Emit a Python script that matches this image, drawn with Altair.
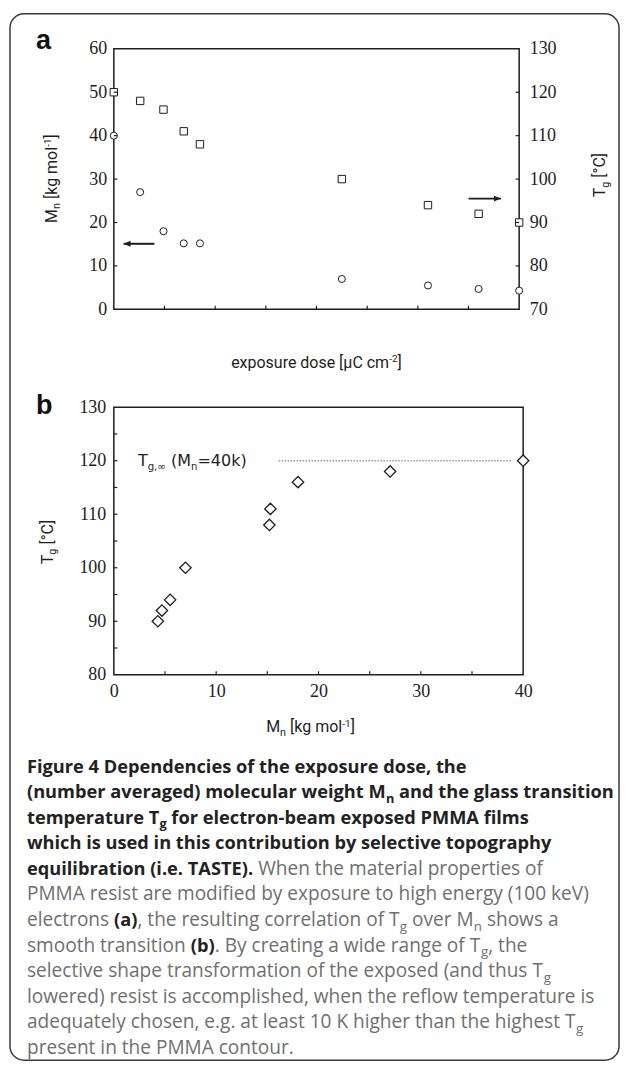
import os
import glob
import struct
import pandas as pd
import altair as alt

# ---------------- data ----------------
dose = [0, 26, 49, 69, 85, 225, 310, 360, 400]              # exposure dose [uC cm^-2]
tg_vs_dose = [120, 118, 116, 111, 108, 100, 94, 92, 90]     # squares (right axis, Tg)
mn_vs_dose = [40, 27, 18, 15.2, 15.2, 7, 5.5, 4.7, 4.3]     # circles (left axis, Mn)

mn_b = [4.3, 4.7, 5.5, 7.0, 15.2, 15.3, 18, 27, 40]         # panel b: Mn
tg_b = [90, 92, 94, 100, 108, 111, 116, 118, 120]           # panel b: Tg

arrow_left_dose = [40, 9.6]
arrow_left_mn = 15.1
arrow_right_dose = [350, 382]
arrow_right_mn = 25.5

tg_inf = 120
tg_inf_line = [16.1, 38.9]
tg_inf_label_mn = 2.35

a_x_labels = [0, 100, 200, 300, 400]
a_x_ticks = [50, 100, 150, 200, 250, 300, 350]
a_l_labels = [0, 10, 20, 30, 40, 50, 60]
a_l_ticks = [10, 20, 30, 40, 50]
a_r_labels = [70, 80, 90, 100, 110, 120, 130]
a_r_ticks = [80, 90, 100, 110, 120]
b_x_labels = [0, 10, 20, 30, 40]
b_x_ticks = [5, 10, 15, 20, 25, 30, 35]
b_y_labels = [80, 90, 100, 110, 120, 130]
b_y_ticks = [85, 90, 95, 100, 105, 110, 115, 120, 125]

title_mn = [("M", "n"), ("n", "sub"), (" [kg mol", "n"), ("-1", "sup"), ("]", "n")]
title_tg = [("T", "n"), ("g", "sub"), (" [\u00b0C]", "n")]
title_dose = [("exposure dose [\u03bcC cm", "n"), ("-2", "sup"), ("]", "n")]
annot_tg_inf = [("T", "n"), ("g,\u221e", "sub"), (" (M", "n"), ("n", "sub"), ("=40k)", "n")]

caption_lines = [
    [("Figure 4 Dependencies of the exposure dose, the", "B")],
    [("(number averaged) molecular weight M", "B"), ("n", "b"), (" and the glass transition", "B")],
    [("temperature T", "B"), ("g", "b"), (" for electron-beam exposed PMMA films", "B")],
    [("which is used in this contribution by selective topography", "B")],
    [("equilibration (i.e. TASTE).", "B"), (" When the material properties of", "R")],
    [("PMMA resist are modified by exposure to high energy (100 keV)", "R")],
    [("electrons ", "R"), ("(a)", "B"), (", the resulting correlation of T", "R"), ("g", "r"),
     (" over M", "R"), ("n", "r"), (" shows a", "R")],
    [("smooth transition ", "R"), ("(b)", "B"), (". By creating a wide range of T", "R"), ("g", "r"),
     (", the", "R")],
    [("selective shape transformation of the exposed (and thus T", "R"), ("g", "r")],
    [("lowered) resist is accomplished, when the reflow temperature is", "R")],
    [("adequately chosen, e.g. at least 10 K higher than the highest T", "R"), ("g", "r")],
    [("present in the PMMA contour.", "R")],
]
# widths (px) that the bold-only caption lines take in the figure
bold_line_widths = {0: 470, 1: 588, 2: 531, 3: 558}

# ---------------- font metrics (for placing sub/superscripts) ----------------
FONT_DIRS = ["/usr/share/fonts", "/usr/local/share/fonts", "/usr/lib/fonts",
             os.path.expanduser("~/.fonts"), os.path.expanduser("~/.local/share/fonts")]


def _all_fonts():
    out = []
    for d in FONT_DIRS:
        try:
            out += [p for p in glob.glob(os.path.join(d, "**", "*"), recursive=True)
                    if p.lower().endswith((".ttf", ".otf", ".ttc"))]
        except Exception:
            pass
    return sorted(out)


ALL_FONTS = _all_fonts()


def _norm(p):
    return os.path.basename(p).lower().replace(" ", "").replace("_", "").replace("-", "")


def pick(prefix, bold, exclude):
    best, bs = None, -1
    for p in ALL_FONTS:
        n = _norm(p)
        if not n.startswith(prefix) or "italic" in n or any(e in n for e in exclude):
            continue
        var = ("[" in n) or ("variable" in n)
        if bold:
            if "bold" in n and not any(w in n for w in ("semibold", "extrabold", "ultrabold", "demibold")):
                sc = 3
            elif var:
                sc = 2
            else:
                continue
        else:
            if "regular" in n:
                sc = 3
            elif var:
                sc = 2
            elif not any(w in n for w in ("bold", "light", "thin", "medium", "black", "heavy", "semi", "extra")):
                sc = 2.5
            else:
                continue
        if sc > bs:
            best, bs = p, sc
    return best


def _parse(path):
    with open(path, "rb") as f:
        data = f.read()
    base = 0
    if data[:4] == b"ttcf":
        base = struct.unpack(">I", data[12:16])[0]
    num = struct.unpack(">H", data[base + 4:base + 6])[0]
    tables = {}
    for i in range(num):
        rec = base + 12 + 16 * i
        tag = data[rec:rec + 4].decode("latin-1")
        off = struct.unpack(">I", data[rec + 8:rec + 12])[0]
        tables[tag] = off
    upem = struct.unpack(">H", data[tables["head"] + 18:tables["head"] + 20])[0]
    nhm = struct.unpack(">H", data[tables["hhea"] + 34:tables["hhea"] + 36])[0]
    h = tables["hmtx"]
    adv = [struct.unpack(">H", data[h + 4 * i:h + 4 * i + 2])[0] for i in range(nhm)]
    c = tables["cmap"]
    n = struct.unpack(">H", data[c + 2:c + 4])[0]
    s = None
    for i in range(n):
        pid, eid, off = struct.unpack(">HHI", data[c + 4 + 8 * i:c + 12 + 8 * i])
        fmt = struct.unpack(">H", data[c + off:c + off + 2])[0]
        if fmt == 4 and (pid == 3 or pid == 0):
            s = c + off
    segx2 = struct.unpack(">H", data[s + 6:s + 8])[0]
    ns = segx2 // 2
    ends = struct.unpack(">%dH" % ns, data[s + 14:s + 14 + segx2])
    starts = struct.unpack(">%dH" % ns, data[s + 16 + segx2:s + 16 + 2 * segx2])
    deltas = struct.unpack(">%dh" % ns, data[s + 16 + 2 * segx2:s + 16 + 3 * segx2])
    ro = s + 16 + 3 * segx2
    roffs = struct.unpack(">%dH" % ns, data[ro:ro + segx2])

    def gid(cp):
        for i in range(ns):
            if ends[i] >= cp:
                if starts[i] > cp:
                    return 0
                if roffs[i] == 0:
                    return (cp + deltas[i]) & 0xFFFF
                a = ro + 2 * i + roffs[i] + 2 * (cp - starts[i])
                g = struct.unpack(">H", data[a:a + 2])[0]
                return (g + deltas[i]) & 0xFFFF if g else 0
        return 0

    def advance(ch):
        cp = ord(ch)
        g = gid(cp) if cp < 0x10000 else 0
        return adv[g] if g < nhm else adv[-1]

    return upem, advance, ("fvar" in tables)


class Meter:
    def __init__(self, path, bold=False, fallback=0.55):
        self.bold = bold
        self.fb = fallback
        self.m = None
        if path:
            try:
                self.m = _parse(path)
            except Exception:
                self.m = None

    def __call__(self, text, size):
        if self.m is None:
            return len(text) * size * self.fb
        upem, advance, var = self.m
        w = sum(advance(ch) for ch in text) * size / upem
        if self.bold and var:
            w *= 1.06
        return w


cap_reg = Meter(pick("opensans", False, ("cond",)))
cap_bold = Meter(pick("opensans", True, ("cond",)), bold=True, fallback=0.6)
roboto = Meter(pick("roboto", False, ("mono", "slab", "cond", "flex", "serif")), fallback=0.5)
dejavu = Meter(pick("dejavusans", False, ("mono", "cond", "serif")), fallback=0.6)

# ---------------- styles / layout ----------------
INK = "#1e1e1e"
SERIF = "Liberation Serif"
TITLE_FONT = "Roboto"
ANNOT_FONT = "DejaVu Sans"
CAP_FONT = "Open Sans"
CAP_BOLD_C = "#222222"
CAP_REG_C = "#6f6f6f"
W_A, H_A = 406, 261
W_B, H_B = 410, 268
GAP = 98
TICK = 3.5

ONE = pd.DataFrame({"k": [0]})


def ax(values, orient, pad):
    return alt.Axis(values=values, orient=orient, labelPadding=pad, labelFont=SERIF,
                    labelFontSize=18, labelColor=INK, grid=False, domain=False, ticks=False,
                    tickSize=0, labelFlush=False, labelOverlap=False, title=None)


def txt(text, enc, font, size, color=INK, weight="normal", angle=0, dx=0.0, dy=0.0, data=ONE):
    kw = dict(text=text, font=font, fontSize=round(size, 2), color=color, fontWeight=weight,
              align="left", baseline="alphabetic", dx=round(dx, 2), dy=round(dy, 2))
    if angle:
        kw["angle"] = angle
    return alt.Chart(data).mark_text(**kw).encode(**enc)


def rich(segs, meter, font, size, enc, angle=0, center=True, data=ONE, sub_f=0.68, sup_f=0.62,
         sub_dy=0.22, sup_dy=-0.36, base_dy=0.0):
    parts = []
    off = 0.0
    for t, kind in segs:
        s = size if kind == "n" else (size * sub_f if kind == "sub" else size * sup_f)
        lead = len(t) - len(t.lstrip(" "))
        trail = len(t) - len(t.rstrip(" "))
        core = t.strip(" ")
        off += lead * meter(" ", s)
        parts.append((core, s, kind, off))
        off += meter(core, s) + trail * meter(" ", s)
    start = -off / 2 if center else 0.0
    layers = []
    for core, s, kind, o in parts:
        dy = 0 if kind == "n" else (size * sub_dy if kind == "sub" else size * sup_dy)
        layers.append(txt(core, enc, font, s, angle=angle, dx=start + o, dy=dy + base_dy, data=data))
    return layers


def at(x, y):
    return dict(x=alt.value(x), y=alt.value(y))


# ---------------- panel a ----------------
xa = alt.Scale(domain=[0, 400], nice=False)
ymn = alt.Scale(domain=[0, 60], nice=False, zero=False)
ytg = alt.Scale(domain=[70, 130], nice=False, zero=False)

df_a = pd.DataFrame({"dose": dose, "tg": tg_vs_dose, "mn": mn_vs_dose})

border = alt.Chart(ONE).mark_rect(fillOpacity=0, stroke="#3a3a3a", strokeWidth=1.5, cornerRadius=14).encode(
    x=alt.value(-104), x2=alt.value(506), y=alt.value(-35), y2=alt.value(1013))

circ = alt.Chart(df_a).mark_point(shape="circle", size=50, filled=True, fill="white", stroke=INK,
                                  strokeWidth=1, opacity=1).encode(
    x=alt.X("dose:Q", scale=xa, axis=ax(a_x_labels, "bottom", 8.7)),
    y=alt.Y("mn:Q", scale=ymn, axis=ax(a_l_labels, "left", 7)))

sq = alt.Chart(df_a).mark_point(shape="square", size=55, filled=True, fill="white", stroke=INK,
                                strokeWidth=1, opacity=1).encode(
    x=alt.X("dose:Q", scale=xa, axis=None),
    y=alt.Y("tg:Q", scale=ytg, axis=ax(a_r_labels, "right", 10)))

df_arr = pd.DataFrame({"x1": [arrow_left_dose[0], arrow_right_dose[0]],
                       "x2": [arrow_left_dose[1], arrow_right_dose[1]],
                       "y": [arrow_left_mn, arrow_right_mn],
                       "head": ["L", "R"]})
shaft = alt.Chart(df_arr).mark_rule(color=INK, strokeWidth=2).encode(
    x=alt.X("x1:Q", scale=xa, axis=None), x2="x2:Q", y=alt.Y("y:Q", scale=ymn, axis=None))
head_l = alt.Chart(df_arr[df_arr["head"] == "L"]).mark_point(
    shape="M0,0L2,-0.85L2,0.85Z", size=49, filled=True, color=INK, opacity=1).encode(
    x=alt.X("x2:Q", scale=xa, axis=None), y=alt.Y("y:Q", scale=ymn, axis=None))
head_r = alt.Chart(df_arr[df_arr["head"] == "R"]).mark_point(
    shape="M0,0L-2,-0.85L-2,0.85Z", size=49, filled=True, color=INK, opacity=1).encode(
    x=alt.X("x2:Q", scale=xa, axis=None), y=alt.Y("y:Q", scale=ymn, axis=None))

tick_a_b = alt.Chart(pd.DataFrame({"v": a_x_ticks})).mark_rule(color=INK, strokeWidth=1.2).encode(
    x=alt.X("v:Q", scale=xa, axis=None), y=alt.value(H_A), y2=alt.value(H_A - TICK))
tick_a_l = alt.Chart(pd.DataFrame({"v": a_l_ticks})).mark_rule(color=INK, strokeWidth=1.2).encode(
    y=alt.Y("v:Q", scale=ymn, axis=None), x=alt.value(0), x2=alt.value(TICK))
tick_a_r = alt.Chart(pd.DataFrame({"v": a_r_ticks})).mark_rule(color=INK, strokeWidth=1.2).encode(
    y=alt.Y("v:Q", scale=ytg, axis=None), x=alt.value(W_A), x2=alt.value(W_A - TICK))

titles_a = (rich(title_mn, roboto, TITLE_FONT, 16, at(-57, 130), angle=270)
            + rich(title_tg, roboto, TITLE_FONT, 16, at(492, 126.5), angle=270)
            + rich(title_dose, roboto, TITLE_FONT, 16, at(W_A / 2, 319.7)))
label_a = txt("a", at(-78, 0), "Liberation Sans", 27, color="#111111", weight="bold")

panel_a = alt.layer(circ, sq, border, shaft, head_l, head_r, tick_a_b, tick_a_l, tick_a_r,
                    *titles_a, label_a).resolve_scale(y="independent").properties(
    width=W_A, height=H_A, view=alt.ViewBackground(stroke=INK, strokeWidth=1.5))

# ---------------- panel b ----------------
xb = alt.Scale(domain=[0, 40], nice=False)
yb = alt.Scale(domain=[80, 130], nice=False, zero=False)

dia = alt.Chart(pd.DataFrame({"mn": mn_b, "tg": tg_b})).mark_point(
    shape="diamond", size=130, filled=True, fill="white", stroke=INK, strokeWidth=1.3, opacity=1).encode(
    x=alt.X("mn:Q", scale=xb, axis=ax(b_x_labels, "bottom", 7.7)),
    y=alt.Y("tg:Q", scale=yb, axis=ax(b_y_labels, "left", 8)))

ref = alt.Chart(pd.DataFrame({"x1": [tg_inf_line[0]], "x2": [tg_inf_line[1]], "y": [tg_inf]})).mark_rule(
    color="#9a9a9a", strokeWidth=1.5, strokeDash=[1.5, 1.5]).encode(
    x=alt.X("x1:Q", scale=xb, axis=None), x2="x2:Q", y=alt.Y("y:Q", scale=yb, axis=None))

tick_b_b = alt.Chart(pd.DataFrame({"v": b_x_ticks})).mark_rule(color=INK, strokeWidth=1.2).encode(
    x=alt.X("v:Q", scale=xb, axis=None), y=alt.value(H_B), y2=alt.value(H_B - TICK))
tick_b_l = alt.Chart(pd.DataFrame({"v": b_y_ticks})).mark_rule(color=INK, strokeWidth=1.2).encode(
    y=alt.Y("v:Q", scale=yb, axis=None), x=alt.value(0), x2=alt.value(TICK))

ann_df = pd.DataFrame({"x": [tg_inf_label_mn], "y": [tg_inf]})
ann_enc = dict(x=alt.X("x:Q", scale=xb, axis=None), y=alt.Y("y:Q", scale=yb, axis=None))
annot = rich(annot_tg_inf, dejavu, ANNOT_FONT, 16, ann_enc, center=False, data=ann_df,
             sub_f=0.64, sub_dy=0.25, base_dy=5.5)

titles_b = (rich(title_tg, roboto, TITLE_FONT, 16, at(-61.3, 135), angle=270)
            + rich(title_mn, roboto, TITLE_FONT, 16, at(197, 325.7)))
label_b = txt("b", at(-78, 7.3), "Liberation Sans", 27, color="#111111", weight="bold")

panel_b = alt.layer(dia, ref, tick_b_b, tick_b_l, *annot, *titles_b, label_b).resolve_scale(
    x="independent", y="independent").properties(
    width=W_B, height=H_B, view=alt.ViewBackground(stroke=INK, strokeWidth=1.5))

# ---------------- caption ----------------
cap_size = 564.0 / cap_reg("PMMA resist are modified by exposure to high energy (100 keV)", 1.0)
cap_size = max(16.0, min(20.0, cap_size))


def _line_w(line, bsize, rsize):
    w = 0.0
    for t, st in line:
        bold = st in ("B", "b")
        m = cap_bold if bold else cap_reg
        base = bsize if bold else rsize
        s = base * 0.7 if st in ("b", "r") else base
        w += m(t, s)
    return w


bold_size = min(tw / _line_w(caption_lines[i], 1.0, 1.0) for i, tw in bold_line_widths.items())
bold_size = max(14.0, min(cap_size, bold_size))
CAP_X = -87.0
CAP_LH = 25.6

rows = []
for i, line in enumerate(caption_lines):
    x = CAP_X
    y = i * CAP_LH
    for t, st in line:
        bold = st in ("B", "b")
        sub = st in ("b", "r")
        m = cap_bold if bold else cap_reg
        base = bold_size if bold else cap_size
        s = base * 0.7 if sub else base
        lead = len(t) - len(t.lstrip(" "))
        trail = len(t) - len(t.rstrip(" "))
        core = t.strip(" ")
        x += lead * m(" ", s)
        rows.append({"t": core, "px": round(x, 2), "py": round(y + (base * 0.25 if sub else 0), 2), "st": st})
        x += m(core, s) + trail * m(" ", s)
df_cap = pd.DataFrame(rows)

cap_layers = []
for st, weight, color, s in [("B", "bold", CAP_BOLD_C, bold_size), ("R", "normal", CAP_REG_C, cap_size),
                             ("b", "bold", CAP_BOLD_C, bold_size * 0.7), ("r", "normal", CAP_REG_C, cap_size * 0.7)]:
    d = df_cap[df_cap["st"] == st]
    cap_layers.append(alt.Chart(d).mark_text(font=CAP_FONT, fontSize=round(s, 2), fontWeight=weight, color=color,
                                             align="left", baseline="alphabetic").encode(
        x=alt.X("px:Q", scale=None, axis=None), y=alt.Y("py:Q", scale=None, axis=None), text="t:N"))

caption = alt.layer(*cap_layers).properties(width=W_B, height=280, view=alt.ViewBackground(strokeWidth=0))

chart = alt.vconcat(panel_a, panel_b, caption, spacing=GAP, bounds="flush").properties(
    padding={"left": 0, "top": 3, "right": 0, "bottom": 0})

chart.save("out.html", embed_options={"renderer": "svg", "actions": False})
